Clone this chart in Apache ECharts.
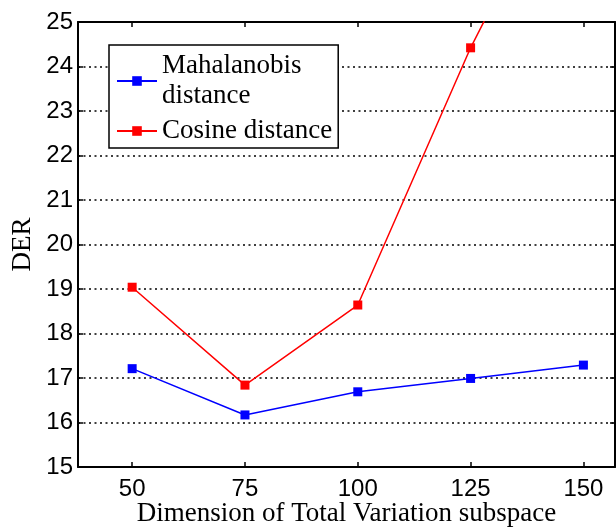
<!DOCTYPE html>
<html>
<head>
<meta charset="utf-8">
<script src="https://cdn.jsdelivr.net/npm/echarts@6/dist/echarts.min.js"></script>
<style>
  html, body { margin: 0; padding: 0; background: #fff; }
  #chart { width: 616px; height: 528px; }
</style>
</head>
<body>
<div id="chart"></div>
<script>
// data
var dims = [50, 75, 100, 125, 150];
var mahalanobis = [17.21, 16.17, 16.69, 16.99, 17.29];
var cosine = [19.04, 16.84, 18.64, 24.42, 29.4];
var yTicks = [15, 16, 17, 18, 19, 20, 21, 22, 23, 24, 25];

function pairs(xs, ys) {
    return xs.map(function (x, i) { return [x, ys[i]]; });
}

var serif = '"Liberation Serif", "DejaVu Serif", serif';
var sans = '"Liberation Sans", Arial, sans-serif';

var chart = echarts.init(document.getElementById('chart'));
chart.setOption({
    animation: false,
    backgroundColor: '#fff',
    grid: { left: 78, right: 1, top: 22, bottom: 61, outerBoundsMode: 'none', containLabel: false },
    legend: {
        left: 109,
        top: 45,
        orient: 'vertical',
        backgroundColor: '#fff',
        borderColor: '#000',
        borderWidth: 1.5,
        borderRadius: 0,
        padding: [6, 6, 2, 7],
        itemGap: 5,
        itemWidth: 40,
        itemHeight: 12,
        textStyle: { fontFamily: serif, fontSize: 27, color: '#000', lineHeight: 30 },
        data: ['Mahalanobis\ndistance', 'Cosine distance']
    },
    xAxis: [{
        type: 'value',
        min: 38,
        max: 157,
        name: 'Dimension of Total Variation subspace',
        nameLocation: 'middle',
        nameGap: 33,
        nameMoveOverlap: false,
        nameTextStyle: { fontFamily: serif, fontSize: 27, color: '#000' },
        axisLine: { lineStyle: { color: '#000', width: 2 } },
        axisTick: { inside: true, length: 5, customValues: dims, lineStyle: { color: '#000', width: 1.5 } },
        axisLabel: { customValues: dims, fontFamily: sans, fontSize: 24, color: '#000', margin: 10 },
        splitLine: { show: false }
    }, {
        type: 'value',
        position: 'top',
        min: 38,
        max: 157,
        axisLine: { lineStyle: { color: '#000', width: 2 } },
        axisTick: { inside: true, length: 5, customValues: dims, lineStyle: { color: '#000', width: 1.5 } },
        axisLabel: { show: false },
        splitLine: { show: false }
    }],
    yAxis: [{
        type: 'value',
        min: 15,
        max: 25,
        interval: 1,
        name: 'DER',
        nameLocation: 'middle',
        nameGap: 42,
        nameMoveOverlap: false,
        nameTextStyle: { fontFamily: serif, fontSize: 27, color: '#000' },
        axisLine: { show: true, lineStyle: { color: '#000', width: 2 } },
        axisTick: { show: true, inside: true, length: 5, lineStyle: { color: '#000', width: 1.5 } },
        axisLabel: {
            fontFamily: sans, fontSize: 24, color: '#000', margin: 5,
            customValues: yTicks
        },
        splitLine: { show: true, lineStyle: { color: '#000', width: 1.5, type: [2, 3.5] } }
    }, {
        type: 'value',
        position: 'right',
        min: 15,
        max: 25,
        interval: 1,
        axisLine: { show: true, lineStyle: { color: '#000', width: 2 } },
        axisTick: { show: true, inside: true, length: 5, lineStyle: { color: '#000', width: 1.5 } },
        axisLabel: { show: false },
        splitLine: { show: false }
    }],
    series: [{
        name: 'Mahalanobis\ndistance',
        type: 'line',
        data: pairs(dims, mahalanobis),
        color: '#0000ff',
        symbol: 'rect',
        symbolSize: 9,
        lineStyle: { width: 1.5 },
        z: 3
    }, {
        name: 'Cosine distance',
        type: 'line',
        data: pairs(dims, cosine),
        color: '#ff0000',
        symbol: 'rect',
        symbolSize: 9,
        lineStyle: { width: 1.5 },
        z: 3
    }]
});
</script>
</body>
</html>
